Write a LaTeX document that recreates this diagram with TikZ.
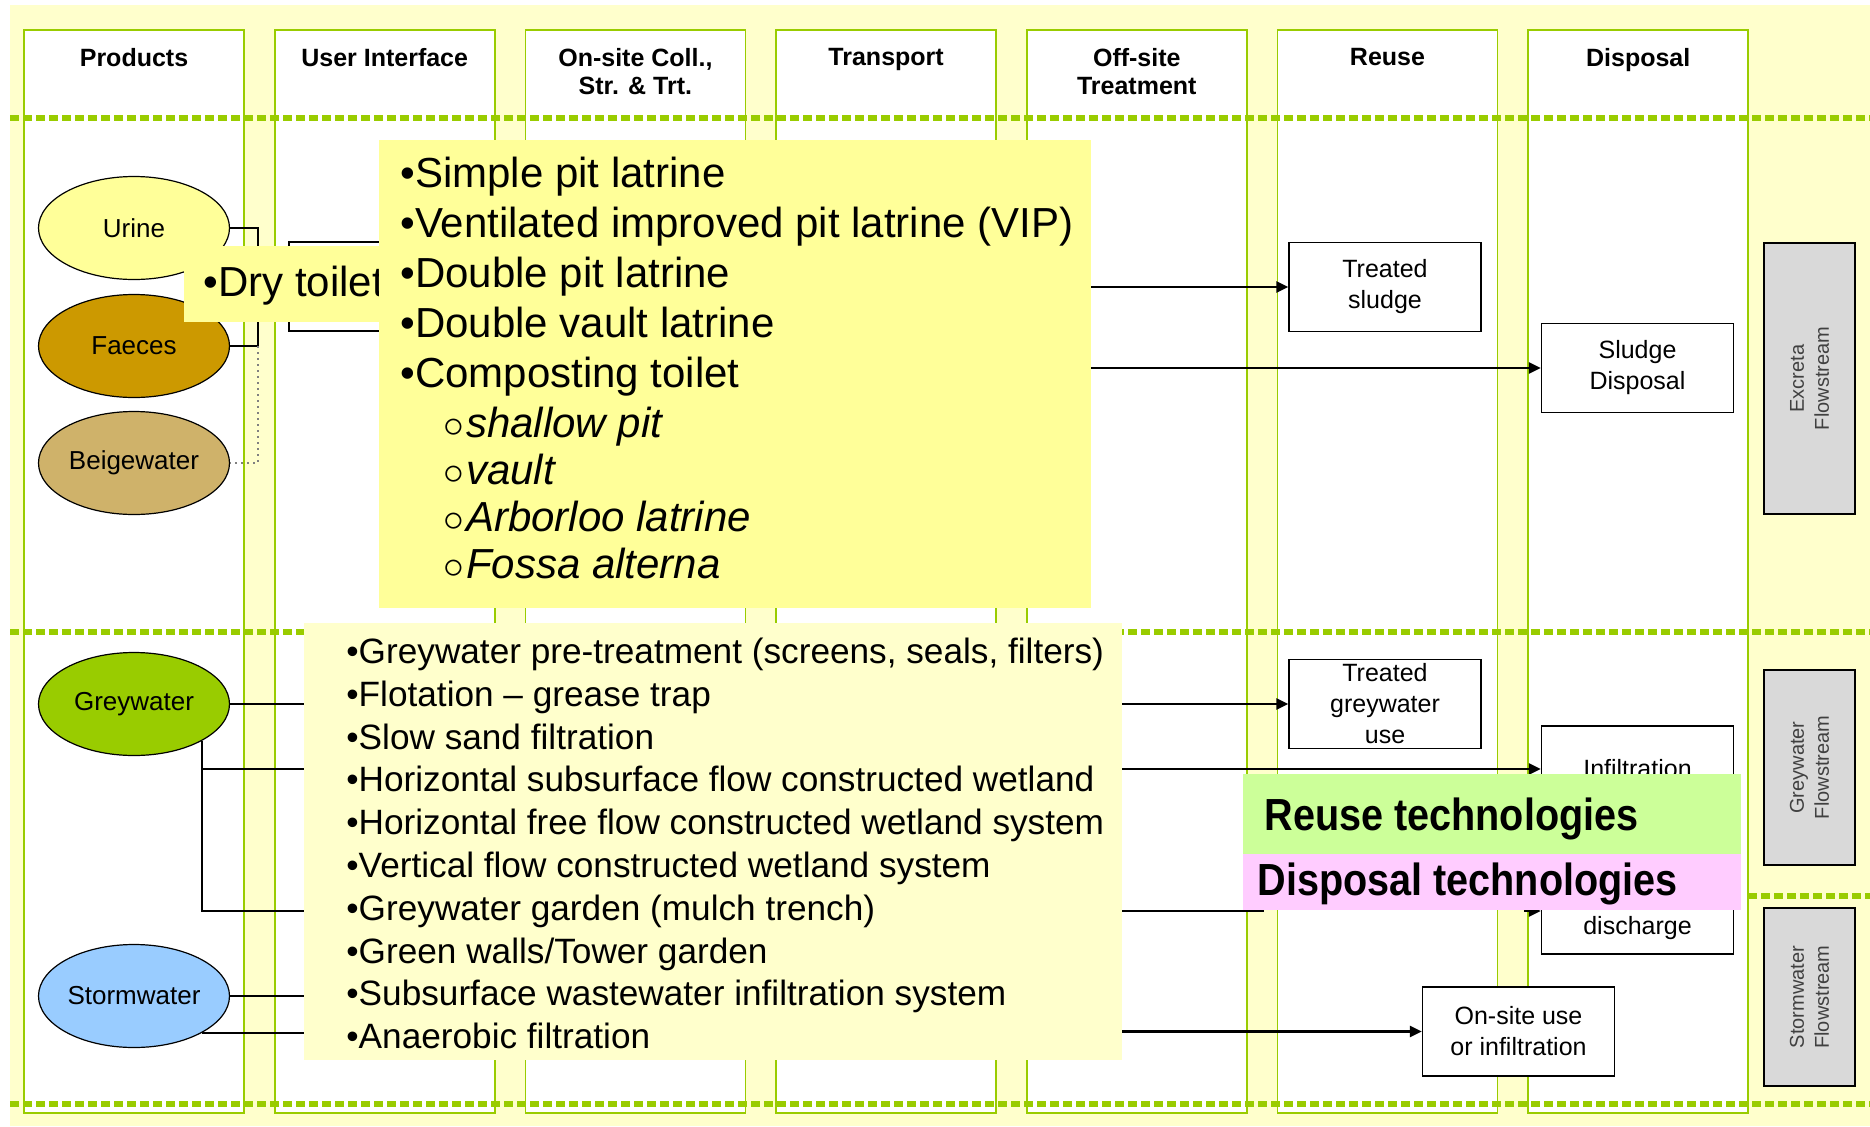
\documentclass[tikz,border=0pt]{standalone}
\usepackage{fontspec}
\setmainfont{Liberation Sans}
\newfontfamily\condfont[FakeStretch=0.88]{Liberation Sans}
\usetikzlibrary{arrows.meta,positioning,shapes.geometric}

\definecolor{bgyellow}{HTML}{FFFFCC}
\definecolor{lanegreen}{HTML}{99CC00}
\definecolor{techyellow}{HTML}{FFFF99}
\definecolor{urinefill}{HTML}{FFFF99}
\definecolor{faecesfill}{HTML}{CC9900}
\definecolor{beigefill}{HTML}{CFB26A}
\definecolor{greyfill}{HTML}{99CC00}
\definecolor{stormfill}{HTML}{99CCFF}
\definecolor{reusegreen}{HTML}{CCFF99}
\definecolor{disppink}{HTML}{FFCCFF}
\definecolor{flowgray}{HTML}{D9D9D9}

\begin{document}
\begin{tikzpicture}[
    x=0.5pt, y=-0.5pt,
    font=\fontsize{12.5}{15.5}\selectfont,
    node distance=15.35pt,
    lane/.style={draw=lanegreen, line width=0.8pt, fill=white, minimum width=110pt, minimum height=541.5pt, inner sep=0pt, outer sep=0pt, anchor=north west},
    head/.style={anchor=north, align=center, inner sep=0pt, font=\bfseries\fontsize{12.5}{14}\selectfont},
    product/.style={ellipse, draw, line width=0.6pt, minimum width=95.5pt, minimum height=51.5pt, inner sep=0pt, font=\fontsize{13}{15.5}\selectfont},
    result/.style={draw, line width=0.7pt, fill=white, align=center, minimum width=96pt, minimum height=44.5pt, inner sep=0pt},
    flow/.style={draw, line width=0.7pt, fill=flowgray, text=black!75, minimum height=45.5pt, align=center, inner sep=0pt, rotate=90, font=\fontsize{10}{12.5}\selectfont},
    panel/.style={anchor=north west, inner sep=0pt, outer sep=0pt},
    techlist/.style={anchor=north west, align=left, inner sep=0pt},
    tag/.style={anchor=base west, inner sep=0pt, font=\condfont\bfseries\fontsize{22.5}{22.5}\selectfont},
    sep/.style={lanegreen, line width=3pt, dash pattern=on 4.5pt off 2pt},
    conn/.style={line width=1.2pt},
    dotconn/.style={line width=1pt, gray, dotted},
    arrow/.style={line width=1.2pt, -{Triangle[length=6pt, width=5.5pt]}}
]
    \useasboundingbox (0,0) rectangle (1870,1126);
    \fill[white] (0,0) rectangle (1870,1126);
    \fill[bgyellow] (10,5) rectangle (1870,1126);

    % lanes and headings
    \node[lane] (cprod) at (24,30) {};
    \node[lane, right=of cprod] (cui) {};
    \node[lane, right=of cui] (ccoll) {};
    \node[lane, right=of ccoll] (ctrans) {};
    \node[lane, right=of ctrans] (coff) {};
    \node[lane, right=of coff] (creuse) {};
    \node[lane, right=of creuse] (cdisp) {};

    \node[head] (hprod) at ([yshift=-9pt]cprod.north) {Products};
    \node[head] (hui) at ([yshift=-9pt]cui.north) {User Interface};
    \node[head] (hcoll) at ([yshift=-9pt]ccoll.north) {On-site Coll.,\\Str. \& Trt.};
    \node[head] (htrans) at ([yshift=-9pt]ctrans.north) {Transport};
    \node[head] (hoff) at ([yshift=-9pt]coff.north) {Off-site\\Treatment};
    \node[head] (hreuse) at ([yshift=-9pt]creuse.north) {Reuse};
    \node[head] (hdisp) at ([yshift=-9pt]cdisp.north) {Disposal};

    \draw[sep] (10,118) -- (1870,118);
    \draw[sep] (10,632) -- (1870,632);
    \draw[sep] (1748,896) -- (1870,896);
    \draw[sep] (10,1104) -- (1870,1104);

    % products
    \node[product, fill=urinefill] (urine) at (134,228) {Urine};
    \node[product, fill=faecesfill] (faeces) at (134,346) {Faeces};
    \node[product, fill=beigefill] (beige) at (134,463) {Beigewater};
    \node[product, fill=greyfill] (grey) at (134,704) {Greywater};
    \node[product, fill=stormfill] (storm) at (134,996) {Stormwater};

    % reuse and disposal boxes
    \node[result] (tsludge) at (1385,287) {Treated\\sludge};
    \node[result] (sdisp) at (1637.5,368) {Sludge\\Disposal};
    \node[result] (tgrey) at (1385,704) {Treated\\greywater\\use};
    \node[result, minimum height=114pt] (infil) at (1637.5,840) {};
    \node (infiltop) at (1637.5,769) {Infiltration};
    \node (infilbot) at (1637.5,928) {discharge};
    \node[result] (onsite) at (1518.5,1031.5) {On-site use\\or infiltration};

    \node[flow, minimum width=135.5pt] (exflow) at (1809.5,378.5) {Excreta\\Flowstream};
    \node[flow, minimum width=97.5pt] (gwflow) at (1809.5,767.5) {Greywater\\Flowstream};
    \node[flow, minimum width=89pt] (swflow) at (1809.5,997) {Stormwater\\Flowstream};

    % excreta stream
    \coordinate (exbar) at (258,287);
    \node[panel, draw, line width=0.8pt, minimum width=80pt, minimum height=44.5pt] (uibox) at (289,242) {};
    \draw[conn] (urine.east) -| (exbar) |- (faeces.east);
    \draw[dotconn] (exbar |- faeces.east) |- (beige.east);
    \draw[conn] (exbar) -- (exbar -| uibox.west);

    \node[panel, fill=techyellow, minimum width=110pt, minimum height=38pt] (drybox) at (184,246) {};
    \node[anchor=base west, inner sep=0pt, font=\fontsize{21}{25}\selectfont] (drytxt) at (203,296) {•Dry toilet};

    \node[panel, fill=techyellow, minimum width=356pt, minimum height=234pt] (exbox) at (379,140) {};
    \node[techlist, font=\fontsize{21}{25}\selectfont] (exlist) at (400,157) {%
        •Simple pit latrine\\
        •Ventilated improved pit latrine (VIP)\\
        •Double pit latrine\\
        •Double vault latrine\\
        •Composting toilet\\
        \hspace*{21.5pt}{\fontsize{20}{20}\selectfont$\circ$}\hspace{1pt}\textit{shallow pit}\\[-1.5pt]
        \hspace*{21.5pt}{\fontsize{20}{20}\selectfont$\circ$}\hspace{1pt}\textit{vault}\\[-1.5pt]
        \hspace*{21.5pt}{\fontsize{20}{20}\selectfont$\circ$}\hspace{1pt}\textit{Arborloo latrine}\\[-1.5pt]
        \hspace*{21.5pt}{\fontsize{20}{20}\selectfont$\circ$}\hspace{1pt}\textit{Fossa alterna}};

    \draw[arrow] (exbox.east |- tsludge.west) -- (tsludge.west);
    \draw[arrow] (exbox.east |- sdisp.west) -- (sdisp.west);

    % greywater and stormwater streams
    \node[panel, fill=bgyellow, minimum width=409pt, minimum height=218.5pt] (gwbox) at (304,623) {};
    \node[techlist, font=\fontsize{17.6}{21.4}\selectfont] (gwlist) at (346,637.5) {%
        •Greywater pre-treatment (screens, seals, filters)\\
        •Flotation – grease trap\\
        •Slow sand filtration\\
        •Horizontal subsurface flow constructed wetland\\
        •Horizontal free flow constructed wetland system\\
        •Vertical flow constructed wetland system\\
        •Greywater garden (mulch trench)\\
        •Green walls/Tower garden\\
        •Subsurface wastewater infiltration system\\
        •Anaerobic filtration};

    \coordinate (gwA) at (304,769);
    \coordinate (gwB) at (304,911);
    \draw[conn] (grey.east) -- (grey.east -| gwbox.west);
    \draw[conn] (grey.south east) |- (gwB);
    \draw[conn] (grey.south east |- gwA) -- (gwA);
    \draw[conn] (storm.east) -- (storm.east -| gwbox.west);
    \draw[conn] (storm.south east) -- (storm.south east -| gwbox.west);

    \draw[arrow] (gwbox.east |- tgrey.west) -- (tgrey.west);
    \draw[arrow] (gwbox.east |- gwA) -- (infil.west |- gwA);
    \draw[arrow] (gwbox.east |- gwB) -- ++(141,0) |- ++(262,-9) |- (infil.west |- gwB);
    \draw[arrow] (gwbox.east |- onsite.west) -- (onsite.west);

    % technology tags
    \node[panel, fill=reusegreen, minimum width=249pt, minimum height=40pt] (reusebox) at (1243,774) {};
    \node[panel, fill=disppink, minimum width=249pt, minimum height=28pt] (dispbox) at (1243,854) {};
    \node[tag] (reusetxt) at (1264,830) {Reuse technologies};
    \node[tag] (disptxt) at (1257,895) {Disposal technologies};
\end{tikzpicture}
\end{document}
